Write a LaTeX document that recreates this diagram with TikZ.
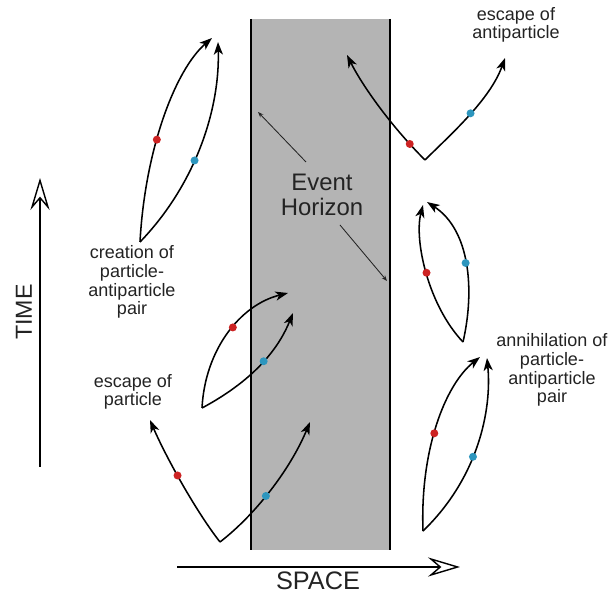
\documentclass[tikz,border=0pt]{standalone}
\usepackage{fontspec}
\setmainfont{Liberation Sans}
\usetikzlibrary{arrows.meta}
\definecolor{horizongray}{RGB}{180,180,180}
\definecolor{partred}{RGB}{205,35,35}
\definecolor{partcyan}{RGB}{45,150,190}
\definecolor{inkgray}{RGB}{35,35,35}

\begin{document}
\begin{tikzpicture}[x=0.025cm, y=-0.025cm,
  worldline/.style={line width=1.1pt, -{Stealth[length=9pt, width=6.5pt, inset=2.5pt]}},
  axis/.style={line width=1.6pt, -{Stealth[open, length=0.8cm, width=0.48cm, inset=0.28cm, line width=1pt]}},
  pointer/.style={line width=0.6pt, inkgray, -{Stealth[length=4pt, width=3pt]}},
  reddot/.style={circle, fill=partred, inner sep=0pt, minimum size=0.2cm},
  cyandot/.style={circle, fill=partcyan, inner sep=0pt, minimum size=0.2cm},
  lbl/.style={align=center, text=inkgray, font=\fontsize{12.8}{13.3}\selectfont, inner sep=0pt},
  big/.style={align=center, text=inkgray, font=\fontsize{17}{17.7}\selectfont, inner sep=0pt}]
\useasboundingbox (0,0) rectangle (613,596);

\fill[horizongray] (251,19) rectangle (390,550);
\draw[line width=1.8pt] (251,19) -- (251,550);
\draw[line width=1.8pt] (390,19) -- (390,550);

\node[big] (eh) at (322,195) {Event\\Horizon};
\coordinate (ehLs) at (306,162);
\coordinate (ehL) at (258,112);
\coordinate (ehRs) at (340,225);
\coordinate (ehR) at (387,281);
\draw[pointer] (ehLs) -- (ehL);
\draw[pointer] (ehRs) -- (ehR);

\coordinate (tBase) at (40,467);
\coordinate (tTip) at (40,178);
\draw[axis] (tBase) -- (tTip);
\node[big, font=\fontsize{16.5}{18}\selectfont, rotate=90] (time) at (24,312) {TIME};
\coordinate (sBase) at (177,567);
\coordinate (sTip) at (460,567);
\draw[axis] (sBase) -- (sTip);
\node[big, font=\fontsize{18}{19}\selectfont, anchor=base] (space) at (318,590) {SPACE};

\node[lbl] (escAnti) at (516,25) {escape of\\antiparticle};
\node[lbl] (creation) at (132,282) {creation of\\particle-\\antiparticle\\pair};
\node[lbl] (escPart) at (133,392) {escape of\\particle};
\node[lbl] (annih) at (552,370) {annihilation of\\particle-\\antiparticle\\pair};

\coordinate (crV) at (140,242);
\coordinate (crP) at (212,38);
\coordinate (crA) at (218,42);
\draw[worldline] (crV) .. controls (145,150) and (175,70) .. (crP) node[reddot, pos=0.4] (crPd) {};
\draw[worldline] (crV) .. controls (195,185) and (220,110) .. (crA) node[cyandot, pos=0.43] (crAd) {};

\coordinate (eaV) at (425,160);
\coordinate (eaP) at (347,55);
\coordinate (eaA) at (505,58);
\draw[worldline] (eaV) .. controls (390,125) and (362,85) .. (eaP) node[reddot, pos=0.15] (eaPd) {};
\draw[worldline] (eaV) .. controls (450,135) and (490,100) .. (eaA) node[cyandot, pos=0.52] (eaAd) {};

\coordinate (lpV) at (463,342);
\coordinate (lpP) at (423,205);
\coordinate (lpA) at (427,202);
\draw[worldline] (lpV) .. controls (428,305) and (414,240) .. (lpP) node[reddot, pos=0.5] (lpPd) {};
\draw[worldline] (lpV) .. controls (475,290) and (470,230) .. (lpA) node[cyandot, pos=0.5] (lpAd) {};

\coordinate (anV) at (423,531);
\coordinate (anP) at (480,357);
\coordinate (anA) at (487,358);
\draw[worldline] (anV) .. controls (420,450) and (445,385) .. (anP) node[reddot, pos=0.45] (anPd) {};
\draw[worldline] (anV) .. controls (478,478) and (492,410) .. (anA) node[cyandot, pos=0.43] (anAd) {};

\coordinate (hzV) at (202,408);
\coordinate (hzP) at (288,293);
\coordinate (hzA) at (293,313);
\draw[worldline] (hzV) .. controls (205,350) and (240,305) .. (hzP) node[reddot, pos=0.55] (hzPd) {};
\draw[worldline] (hzV) .. controls (258,378) and (280,345) .. (hzA) node[cyandot, pos=0.5] (hzAd) {};

\coordinate (epV) at (220,542);
\coordinate (epP) at (150,420);
\coordinate (epA) at (310,422);
\draw[worldline] (epV) .. controls (195,510) and (165,455) .. (epP) node[reddot, pos=0.55] (epPd) {};
\draw[worldline] (epV) .. controls (255,515) and (290,470) .. (epA) node[cyandot, pos=0.45] (epAd) {};
\end{tikzpicture}
\end{document}
